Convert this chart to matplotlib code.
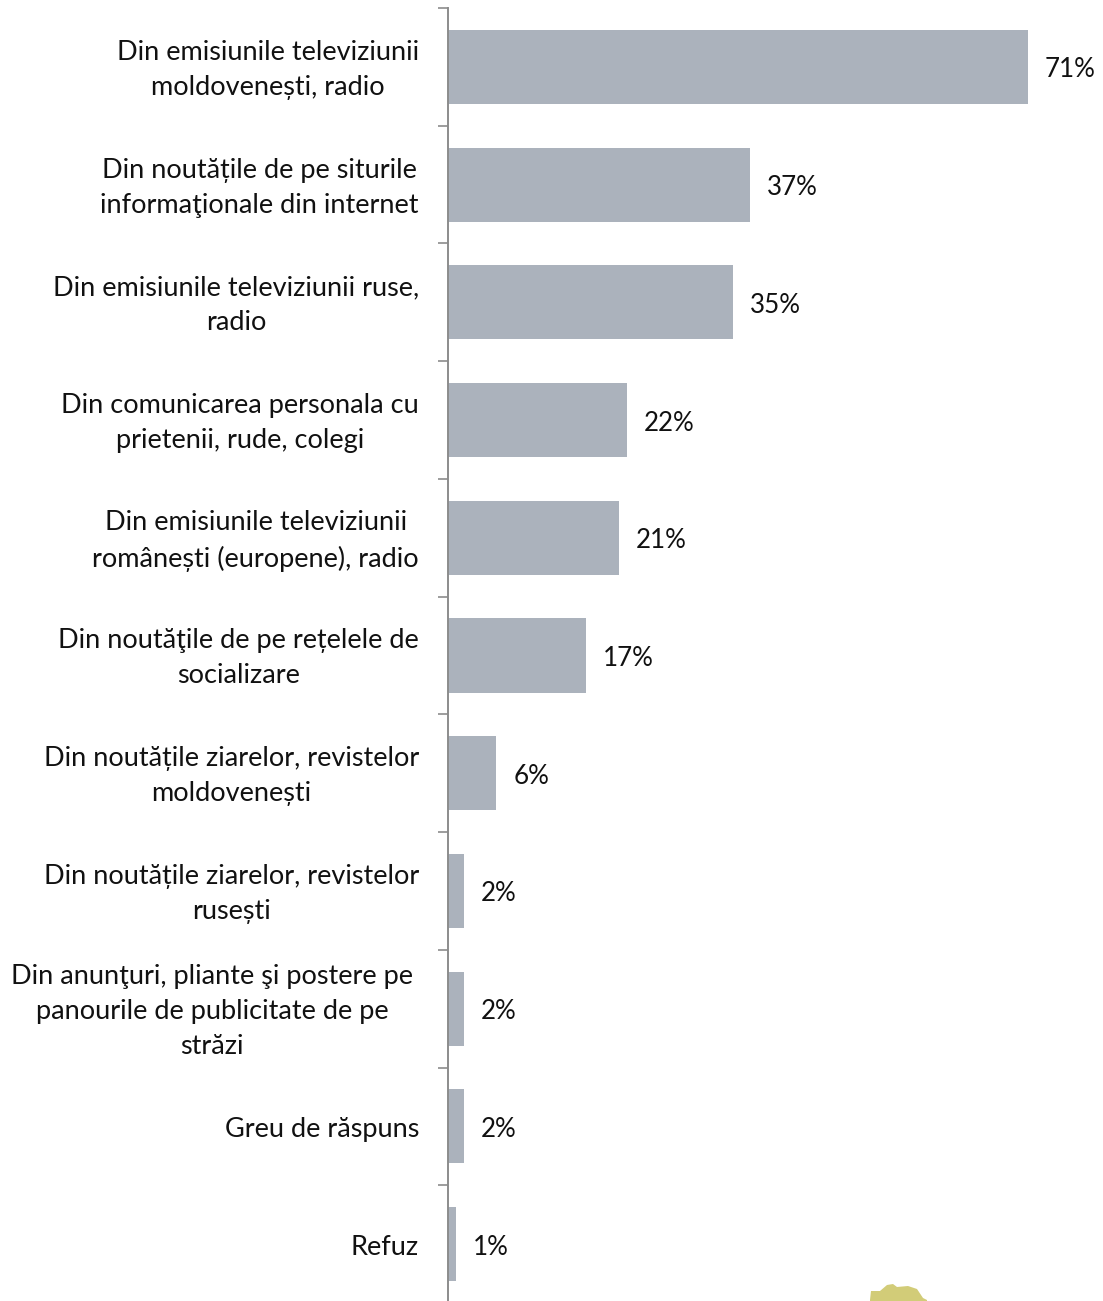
import matplotlib
matplotlib.use('Agg')
import matplotlib.pyplot as plt

W, H = 1103, 1301

labels = [
    'Din emisiunile televiziunii\nmoldovenești, radio',
    'Din noutățile de pe siturile\ninformaţionale din internet',
    'Din emisiunile televiziunii ruse,\nradio',
    'Din comunicarea personala cu\nprietenii, rude, colegi',
    'Din emisiunile televiziunii\nromânești (europene), radio',
    'Din noutăţile de pe rețelele de\nsocializare',
    'Din noutățile ziarelor, revistelor\nmoldovenești',
    'Din noutățile ziarelor, revistelor\nrusești',
    'Din anunţuri, pliante şi postere pe\npanourile de publicitate de pe\nstrăzi',
    'Greu de răspuns',
    'Refuz',
]
values = [71, 37, 35, 22, 21, 17, 6, 2, 2, 2, 1]
# bars are not quite proportional to the rounded labels
bar_lengths = [71.0, 37.0, 34.9, 21.9, 20.9, 16.9, 5.9, 1.9, 1.9, 1.9, 1.0]

plt.rcParams['font.family'] = ['Lato', 'DejaVu Sans']

fig = plt.figure(figsize=(W / 100, H / 100), dpi=100)
x0 = 448
y_top, y_bot = 8, 1303
ax = fig.add_axes([x0 / W, 1 - y_bot / H, (W - x0) / W, (y_bot - y_top) / H])
ax.patch.set_alpha(0)

ypos = list(range(len(values)))
ax.barh(ypos, bar_lengths, height=0.63, color='#abb2bc')
ax.set_ylim(len(values) - 0.5, -0.5)
ax.set_xlim(0, (W - x0) / (580 / 71))

for s in ['top', 'right', 'bottom']:
    ax.spines[s].set_visible(False)
ax.spines['left'].set_color('#8c8c8c')
ax.spines['left'].set_linewidth(1.4)
ax.xaxis.set_visible(False)

ax.set_yticks([i - 0.5 for i in range(len(values) + 1)])
ax.set_yticklabels([])
ax.tick_params(axis='y', length=7, width=1.2, color='#8c8c8c', direction='out')

for i, (lab, v, b) in enumerate(zip(labels, values, bar_lengths)):
    ax.annotate(f'{v}%', xy=(b, i), xytext=(17, -3), textcoords='offset pixels',
                va='center', ha='left', fontsize=18.7, color='#111111')
    # the three-line label sits a little further from the axis
    pad = 35 if lab.count('\n') == 2 else 29
    ax.annotate(lab, xy=(0, i), xytext=(-pad, -3), textcoords='offset pixels',
                ha='right', va='center', fontsize=19.5, color='#111111',
                linespacing=1.5, multialignment='center')

# scrap of the map picture cut off at the bottom edge
map_x = [870, 871, 880, 887, 893, 897, 908, 917, 923, 927, 927, 870]
map_y = [1300, 1291, 1291, 1285, 1284, 1287, 1286, 1289, 1298, 1300, 1301, 1301]
fig.add_artist(plt.Polygon([(x / W, 1 - y / H) for x, y in zip(map_x, map_y)],
                           closed=True, transform=fig.transFigure,
                           color='#d2cc78', lw=0))

fig.savefig('out.png', dpi=100)
